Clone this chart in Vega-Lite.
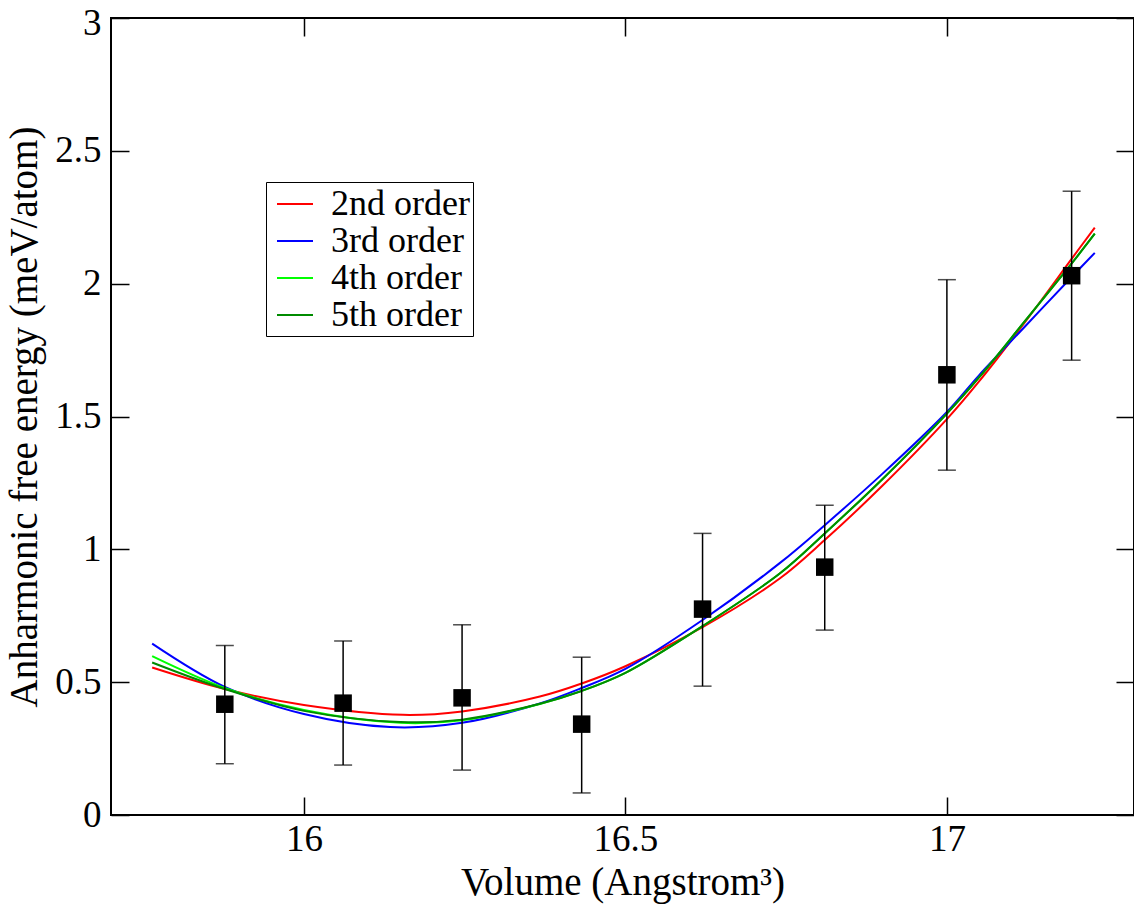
{
  "$schema": "https://vega.github.io/schema/vega-lite/v6.json",
  "width": 1023,
  "height": 797,
  "padding": {"left": 111, "top": 18, "right": 0, "bottom": 99},
  "autosize": {"type": "none"},
  "background": "white",
  "config": {
    "view": {"stroke": "black", "strokeWidth": 2},
    "font": "Liberation Serif, Times New Roman, serif"
  },
  "datasets": {
    "fits": [
      {"v": 15.764, "e": 0.555, "fit": "2nd order"},
      {"v": 15.877, "e": 0.474, "fit": "2nd order"},
      {"v": 16.0, "e": 0.414, "fit": "2nd order"},
      {"v": 16.154, "e": 0.377, "fit": "2nd order"},
      {"v": 16.246, "e": 0.39, "fit": "2nd order"},
      {"v": 16.367, "e": 0.446, "fit": "2nd order"},
      {"v": 16.432, "e": 0.495, "fit": "2nd order"},
      {"v": 16.5, "e": 0.56, "fit": "2nd order"},
      {"v": 16.62, "e": 0.707, "fit": "2nd order"},
      {"v": 16.74, "e": 0.89, "fit": "2nd order"},
      {"v": 16.81, "e": 1.035, "fit": "2nd order"},
      {"v": 16.9, "e": 1.24, "fit": "2nd order"},
      {"v": 17.0, "e": 1.49, "fit": "2nd order"},
      {"v": 17.05, "e": 1.632, "fit": "2nd order"},
      {"v": 17.12, "e": 1.85, "fit": "2nd order"},
      {"v": 17.196, "e": 2.1, "fit": "2nd order"},
      {"v": 17.23, "e": 2.211, "fit": "2nd order"},

      {"v": 15.764, "e": 0.645, "fit": "3rd order"},
      {"v": 15.877, "e": 0.482, "fit": "3rd order"},
      {"v": 16.0, "e": 0.38, "fit": "3rd order"},
      {"v": 16.134, "e": 0.331, "fit": "3rd order"},
      {"v": 16.246, "e": 0.347, "fit": "3rd order"},
      {"v": 16.367, "e": 0.42, "fit": "3rd order"},
      {"v": 16.432, "e": 0.478, "fit": "3rd order"},
      {"v": 16.5, "e": 0.55, "fit": "3rd order"},
      {"v": 16.62, "e": 0.734, "fit": "3rd order"},
      {"v": 16.74, "e": 0.948, "fit": "3rd order"},
      {"v": 16.81, "e": 1.091, "fit": "3rd order"},
      {"v": 16.9, "e": 1.285, "fit": "3rd order"},
      {"v": 17.0, "e": 1.517, "fit": "3rd order"},
      {"v": 17.05, "e": 1.655, "fit": "3rd order"},
      {"v": 17.12, "e": 1.835, "fit": "3rd order"},
      {"v": 17.196, "e": 2.03, "fit": "3rd order"},
      {"v": 17.23, "e": 2.116, "fit": "3rd order"},

      {"v": 15.764, "e": 0.598, "fit": "4th order"},
      {"v": 15.877, "e": 0.478, "fit": "4th order"},
      {"v": 16.0, "e": 0.395, "fit": "4th order"},
      {"v": 16.15, "e": 0.347, "fit": "4th order"},
      {"v": 16.246, "e": 0.357, "fit": "4th order"},
      {"v": 16.367, "e": 0.418, "fit": "4th order"},
      {"v": 16.432, "e": 0.467, "fit": "4th order"},
      {"v": 16.5, "e": 0.535, "fit": "4th order"},
      {"v": 16.62, "e": 0.711, "fit": "4th order"},
      {"v": 16.74, "e": 0.909, "fit": "4th order"},
      {"v": 16.81, "e": 1.06, "fit": "4th order"},
      {"v": 16.9, "e": 1.265, "fit": "4th order"},
      {"v": 17.0, "e": 1.511, "fit": "4th order"},
      {"v": 17.05, "e": 1.647, "fit": "4th order"},
      {"v": 17.12, "e": 1.855, "fit": "4th order"},
      {"v": 17.196, "e": 2.082, "fit": "4th order"},
      {"v": 17.23, "e": 2.188, "fit": "4th order"},

      {"v": 15.764, "e": 0.574, "fit": "5th order"},
      {"v": 15.877, "e": 0.474, "fit": "5th order"},
      {"v": 16.0, "e": 0.392, "fit": "5th order"},
      {"v": 16.15, "e": 0.35, "fit": "5th order"},
      {"v": 16.246, "e": 0.359, "fit": "5th order"},
      {"v": 16.367, "e": 0.419, "fit": "5th order"},
      {"v": 16.432, "e": 0.467, "fit": "5th order"},
      {"v": 16.5, "e": 0.535, "fit": "5th order"},
      {"v": 16.62, "e": 0.711, "fit": "5th order"},
      {"v": 16.74, "e": 0.909, "fit": "5th order"},
      {"v": 16.81, "e": 1.06, "fit": "5th order"},
      {"v": 16.9, "e": 1.265, "fit": "5th order"},
      {"v": 17.0, "e": 1.511, "fit": "5th order"},
      {"v": 17.05, "e": 1.647, "fit": "5th order"},
      {"v": 17.12, "e": 1.855, "fit": "5th order"},
      {"v": 17.196, "e": 2.082, "fit": "5th order"},
      {"v": 17.23, "e": 2.188, "fit": "5th order"}
    ],
    "pts": [
      {"v": 15.877, "e": 0.417, "lo": 0.193, "hi": 0.638},
      {"v": 16.061, "e": 0.421, "lo": 0.188, "hi": 0.655},
      {"v": 16.246, "e": 0.441, "lo": 0.169, "hi": 0.716},
      {"v": 16.432, "e": 0.342, "lo": 0.083, "hi": 0.594},
      {"v": 16.62, "e": 0.775, "lo": 0.485, "hi": 1.06},
      {"v": 16.81, "e": 0.933, "lo": 0.696, "hi": 1.166},
      {"v": 17.0, "e": 1.657, "lo": 1.298, "hi": 2.015},
      {"v": 17.194, "e": 2.03, "lo": 1.712, "hi": 2.348}
    ]
  },
  "layer": [
    {
      "data": {"name": "fits"},
      "mark": {"type": "line", "strokeWidth": 2, "interpolate": "catmull-rom", "clip": true},
      "encoding": {
        "x": {
          "field": "v", "type": "quantitative",
          "scale": {"domain": [15.7, 17.291], "nice": false, "zero": false},
          "axis": {
            "orient": "bottom", "values": [16, 16.5, 17], "format": "~g", "domain": false, "grid": false,
            "tickSize": -18, "tickColor": "black", "tickWidth": 1.5,
            "labelFont": "Liberation Serif, Times New Roman, serif", "labelFontSize": 37, "labelColor": "black", "labelPadding": 24,
            "title": "Volume (Angstrom³)", "titleFont": "Liberation Serif, Times New Roman, serif", "titleFontSize": 39,
            "titleFontWeight": "normal", "titleColor": "black", "titlePadding": 6
          }
        },
        "y": {
          "field": "e", "type": "quantitative",
          "scale": {"domain": [0, 3], "nice": false, "zero": false},
          "axis": {
            "orient": "left", "values": [0, 0.5, 1, 1.5, 2, 2.5, 3], "format": "~g", "domain": false, "grid": false,
            "tickSize": -18, "tickColor": "black", "tickWidth": 1.5,
            "labelFont": "Liberation Serif, Times New Roman, serif", "labelFontSize": 37, "labelColor": "black", "labelPadding": 28,
            "labelOffset": {"condition": {"test": "datum.value == 3", "value": 5}, "value": 0},
            "title": "Anharmonic free energy (meV/atom)", "titleFont": "Liberation Serif, Times New Roman, serif", "titleFontSize": 39,
            "titleFontWeight": "normal", "titleColor": "black", "titlePadding": 10
          }
        },
        "color": {
          "field": "fit", "type": "nominal",
          "scale": {
            "domain": ["2nd order", "3rd order", "4th order", "5th order"],
            "range": ["#ff0000", "#0000ff", "#00ff00", "#008b00"]
          },
          "legend": {
            "orient": "none", "legendX": 155, "legendY": 164, "title": null,
            "strokeColor": "black", "fillColor": "white", "padding": 3,
            "symbolType": "stroke", "symbolSize": 1296, "symbolStrokeWidth": 2, "symbolOffset": 7,
            "labelFont": "Liberation Serif, Times New Roman, serif", "labelFontSize": 36, "labelColor": "black",
            "labelOffset": 17, "labelLimit": 0, "rowPadding": 0
          }
        }
      }
    },
    {
      "data": {"name": "pts"},
      "mark": {"type": "errorbar", "color": "black", "thickness": 1.5, "ticks": {"size": 18, "thickness": 1.5, "color": "black"}},
      "encoding": {
        "x": {"field": "v", "type": "quantitative", "axis": null},
        "y": {"field": "lo", "type": "quantitative", "axis": null},
        "y2": {"field": "hi"}
      }
    },
    {
      "data": {"name": "pts"},
      "mark": {"type": "square", "size": 306, "color": "black", "filled": true, "opacity": 1},
      "encoding": {
        "x": {"field": "v", "type": "quantitative", "axis": null},
        "y": {"field": "e", "type": "quantitative", "axis": null}
      }
    },
    {
      "data": {"name": "pts"},
      "mark": {"type": "point", "opacity": 0},
      "encoding": {
        "x": {
          "field": "v", "type": "quantitative",
          "axis": {"orient": "top", "values": [16, 16.5, 17], "domain": false, "grid": false, "labels": false, "title": null,
                   "tickSize": -18, "tickColor": "black", "tickWidth": 1.5}
        },
        "y": {
          "field": "e", "type": "quantitative",
          "axis": {"orient": "right", "values": [0, 0.5, 1, 1.5, 2, 2.5, 3], "domain": false, "grid": false, "labels": false, "title": null,
                   "tickSize": -18, "tickColor": "black", "tickWidth": 1.5}
        }
      }
    }
  ]
}
